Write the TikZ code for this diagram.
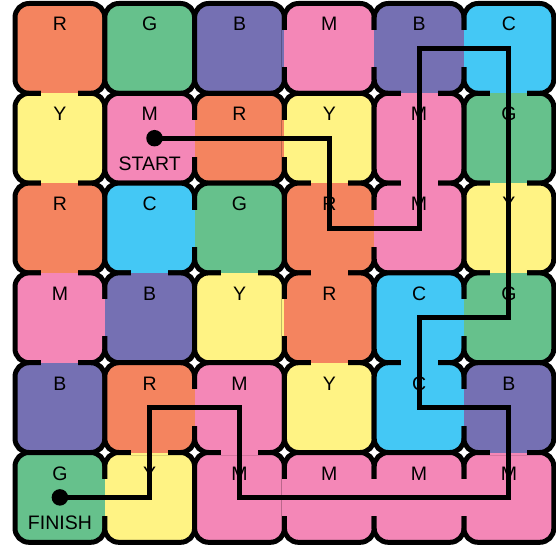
\documentclass[tikz,border=0pt]{standalone}
\usepackage{fontspec}
\setmainfont{Liberation Sans}
\definecolor{cR}{HTML}{F4845F}
\definecolor{cG}{HTML}{66C18C}
\definecolor{cB}{HTML}{7570B3}
\definecolor{cM}{HTML}{F487B7}
\definecolor{cC}{HTML}{44C8F5}
\definecolor{cY}{HTML}{FFF384}
\begin{document}
\begin{tikzpicture}[x=1pt,y=-1pt,
  cellbox/.style={draw=black, line width=5pt, rounded corners=14pt, minimum size=89.8pt, inner sep=0pt, outer sep=0pt, rectangle},
  lbl/.style={font=\fontsize{19.5pt}{20pt}\selectfont, anchor=base, inner sep=0pt, text=black},
  route/.style={line width=5pt, line join=miter, draw=black},
  dotmark/.style={circle, fill=black, inner sep=0pt, minimum size=16.5pt}]
\useasboundingbox (0,0) rectangle (556,548);
% cells
\foreach \row [count=\r from 0] in {{R,G,B,M,B,C},{Y,M,R,Y,M,G},{R,C,G,R,M,Y},{M,B,Y,R,C,G},{B,R,M,Y,C,B},{G,Y,M,M,M,M}}{
  \foreach \L [count=\c from 0] in \row {
    \node[cellbox, fill=c\L] (k\r\c) at ({59.9+89.8*\c},{48.4+89.8*\r}) {};
  }
}
% vertical doors: row, col, left colour, right colour
\foreach \r/\c/\a/\b in {0/2/B/M,0/3/M/B,0/4/B/C,1/1/M/R,1/2/R/Y,2/1/C/G,2/3/R/M,3/0/M/B,3/2/Y/R,3/4/C/G,4/1/R/M,4/4/C/B,5/0/G/Y,5/2/M/M,5/3/M/M,5/4/M/M}{
  \fill[c\a] ({15+89.8*(\c+1)-2.9},{48.4+89.8*\r-18.5}) rectangle ({15+89.8*(\c+1)},{48.4+89.8*\r+18.5});
  \fill[c\b] ({15+89.8*(\c+1)},{48.4+89.8*\r-18.5}) rectangle ({15+89.8*(\c+1)+2.9},{48.4+89.8*\r+18.5});
}
% horizontal doors: row, col, top colour, bottom colour
\foreach \r/\c/\a/\b in {0/0/R/Y,0/4/B/M,0/5/C/G,1/0/Y/R,1/3/Y/R,1/4/M/M,1/5/G/Y,2/0/R/M,2/1/C/B,2/2/G/Y,2/3/R/R,2/5/Y/G,3/0/M/B,3/3/R/Y,3/4/C/C,4/1/R/Y,4/2/M/M,4/5/B/M}{
  \fill[c\a] ({59.9+89.8*\c-18.5},{3.5+89.8*(\r+1)-2.9}) rectangle ({59.9+89.8*\c+18.5},{3.5+89.8*(\r+1)});
  \fill[c\b] ({59.9+89.8*\c-18.5},{3.5+89.8*(\r+1)}) rectangle ({59.9+89.8*\c+18.5},{3.5+89.8*(\r+1)+2.9});
}
% letters
\foreach \row [count=\r from 0] in {{R,G,B,M,B,C},{Y,M,R,Y,M,G},{R,C,G,R,M,Y},{M,B,Y,R,C,G},{B,R,M,Y,C,B},{G,Y,M,M,M,M}}{
  \foreach \L [count=\c from 0] in \row {
    \node[lbl] (t\r\c) at ({59.9+89.8*\c},{48.4+89.8*\r-17.4}) {\L};
  }
}
\node[lbl] (starttxt) at (149.7,170.2) {START};
\node[lbl] (fintxt) at (59.9,529.6) {FINISH};
% route
\node[dotmark] (s) at (154.5,138.2) {};
\node[dotmark] (f) at (k50.center) {};
\draw[route] (s.center) -- (k13.center) -- (k23.center) -- (k24.center) -- (k04.center) -- (k05.center) -- (k35.center) -- (k34.center) -- (k44.center) -- (k45.center) -- (k55.center) -- (k52.center) -- (k42.center) -- (k41.center) -- (k51.center) -- (f.center);
\end{tikzpicture}
\end{document}
